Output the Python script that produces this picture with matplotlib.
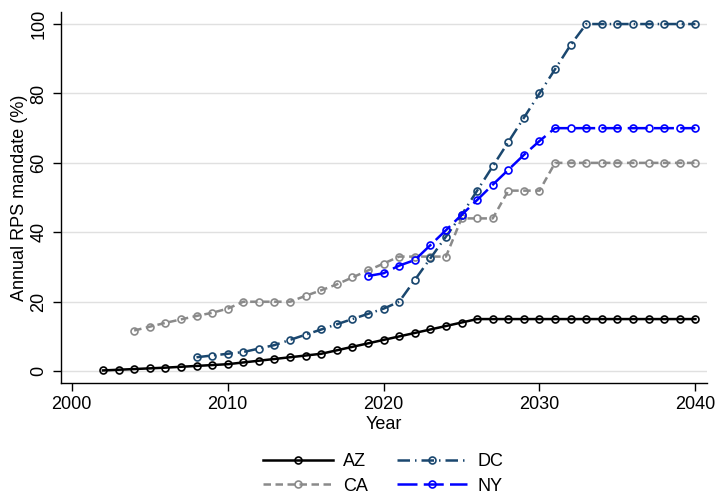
import matplotlib
matplotlib.use("Agg")
import matplotlib.pyplot as plt

years_az = list(range(2002, 2041))
az = [0.2, 0.4, 0.6, 0.8, 1.0, 1.25, 1.5, 1.75, 2.0, 2.5, 3.0, 3.5, 4.0, 4.5, 5.0,
      6, 7, 8, 9, 10, 11, 12, 13, 14] + [15] * 15

years_ca = list(range(2004, 2041))
ca = [11.7, 12.8, 13.9, 14.9, 15.9, 16.8, 18.0, 20, 20, 20, 20, 21.7, 23.3, 25, 27, 29, 31,
      33, 33, 33, 33, 44, 44, 44, 52, 52, 52] + [60] * 10

years_dc = list(range(2008, 2041))
dc = [4.0, 4.5, 5.0, 5.5, 6.5, 7.5, 9.0, 10.5, 12.0, 13.5, 15.0, 16.5, 18.0, 20.0,
      26.25, 32.5, 38.75, 45, 52, 59, 66, 73, 80, 87, 94] + [100] * 8

years_ny = list(range(2019, 2041))
ny = [27.4, 28.2, 30.4, 32.0, 36.3, 40.6, 45.0, 49.3, 53.7, 58.0, 62.3, 66.3] + [70] * 10

xticks = [2000, 2010, 2020, 2030, 2040]
yticks = [0, 20, 40, 60, 80, 100]

plt.rcParams['font.family'] = ['Liberation Sans', 'DejaVu Sans']

fig = plt.figure(figsize=(7.16, 4.95), dpi=100)
ax = fig.add_axes([0.0848, 0.2257, 0.9032, 0.7503])

ms = 5
mew = 1.2
ax.plot(years_az, az, color='black', lw=1.8, ls='-', marker='o', ms=ms, mfc='none', mew=mew, label='AZ', zorder=3)
ax.plot(years_ca, ca, color='#8a8a8a', lw=1.8, ls=(0, (3, 1.8)), marker='o', ms=ms, mfc='none', mew=mew, label='CA', zorder=3)
ax.plot(years_dc, dc, color='#1a476f', lw=1.8, ls=(0, (5, 2, 0.6, 2)), marker='o', ms=ms, mfc='none', mew=mew, label='DC', zorder=3)
ax.plot(years_ny, ny, color='#0000ff', lw=1.8, ls=(0, (8, 2.5)), marker='o', ms=ms, mfc='none', mew=mew, label='NY', zorder=3)

ax.set_xlim(1999.29, 2040.77)
ax.set_ylim(-3.5, 103.5)
ax.set_xticks(xticks)
ax.set_yticks(yticks)
ax.yaxis.grid(True, color='#e0e0e0', lw=1.0)
ax.set_axisbelow(True)
for s in ['top', 'right']:
    ax.spines[s].set_visible(False)
ax.spines['left'].set_linewidth(1.0)
ax.spines['bottom'].set_linewidth(1.0)
ax.tick_params(axis='both', labelsize=13, length=6, width=1.0, direction='out')
for lbl in ax.get_yticklabels():
    lbl.set_rotation(90)
    lbl.set_va('center')
ax.set_xlabel('Year', fontsize=13, labelpad=2)
ax.set_ylabel('Annual RPS mandate (%)', fontsize=13, labelpad=2)

fig.legend(loc='center', bbox_to_anchor=(383 / 716, 1 - 474 / 495), ncol=2, frameon=False,
           fontsize=13, numpoints=1, handlelength=3.9, handletextpad=0.55,
           columnspacing=1.6, labelspacing=0.4)

fig.savefig('out.png', dpi=100)
